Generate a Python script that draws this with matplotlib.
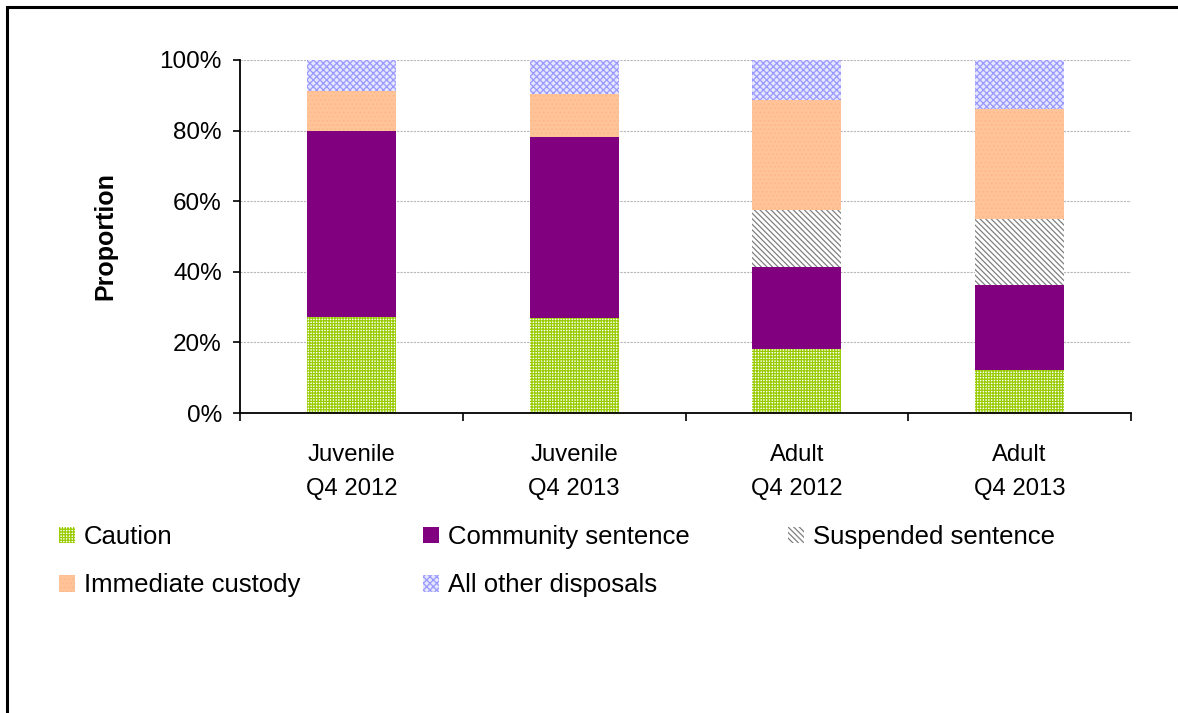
import matplotlib.pyplot as plt
import numpy as np
from matplotlib.patches import Rectangle

plt.rcParams['font.family'] = ['Liberation Sans', 'DejaVu Sans']
plt.rcParams['hatch.linewidth'] = 0.9

groups = ["Juvenile\nQ4 2012", "Juvenile\nQ4 2013", "Adult\nQ4 2012", "Adult\nQ4 2013"]
caution = [27.1, 26.9, 18.0, 12.2]
community = [52.7, 51.3, 23.5, 24.1]
suspended = [0.0, 0.0, 16.0, 18.7]
custody = [11.3, 12.2, 31.3, 31.1]
other = [8.9, 9.6, 11.2, 13.9]

series = [
    ("Caution", caution, dict(facecolor="white", edgecolor="#99CC00", hatch="++++++")),
    ("Community sentence", community, dict(facecolor="#800080", edgecolor="#800080", hatch=None)),
    ("Suspended sentence", suspended, dict(facecolor="white", edgecolor="#808080", hatch="\\\\\\\\\\\\")),
    ("Immediate custody", custody, dict(facecolor="#FFC499", edgecolor="#FFB88A", hatch="....")),
    ("All other disposals", other, dict(facecolor="#E6E6FF", edgecolor="#9999FF", hatch="xxxxx")),
]

fig = plt.figure(figsize=(11.78, 7.13), dpi=100)
ax = fig.add_axes([240 / 1178, 1 - 413 / 713, 891 / 1178, 353 / 713])

x = np.arange(len(groups))
bottom = np.zeros(len(groups))
bars = {}
for name, vals, style in series:
    vals = np.array(vals)
    bars[name] = ax.bar(x, vals, 0.4, bottom=bottom, linewidth=0, label=name, zorder=2, **style)
    bottom += vals

ax.set_xlim(-0.5, len(groups) - 0.5)
ax.set_ylim(0, 100)
ax.set_yticks(np.arange(0, 101, 20))
ax.set_yticklabels([f"{v}%" for v in range(0, 101, 20)])
ax.yaxis.grid(True, color="#B8B8B8", linewidth=0.8, linestyle=(0, (2, 1)), zorder=0)
ax.set_axisbelow(True)

ax.set_xticks(x)
ax.set_xticklabels(groups, linespacing=1.7)
ax.set_xticks(np.arange(-0.5, len(groups)), minor=True)
ax.tick_params(axis="x", which="major", length=0, pad=22.5, labelsize=17.2)
ax.tick_params(axis="x", which="minor", length=6, width=1.2, direction="out")
ax.tick_params(axis="y", length=5, width=1.2, pad=8, labelsize=17.5)

for s in ("top", "right"):
    ax.spines[s].set_visible(False)
for s in ("left", "bottom"):
    ax.spines[s].set_linewidth(1.3)

ax.set_ylabel("Proportion", fontsize=18, fontweight="bold")
ax.yaxis.set_label_coords(-0.138, 0.5)

# legend laid out as three fixed-width columns
columns = [
    (59, ["Caution", "Immediate custody"]),
    (423, ["Community sentence", "All other disposals"]),
    (788, ["Suspended sentence"]),
]
for xpos, names in columns:
    fig.legend([bars[n] for n in names], names, loc="upper left",
               bbox_to_anchor=(xpos / 1178, 1 - 525 / 713), frameon=False,
               fontsize=18.5, handlelength=0.62, handleheight=0.6,
               handletextpad=0.35, labelspacing=0.95, borderpad=0, borderaxespad=0)

# outer frame, cut off by the right and bottom edges
fig.patches.append(Rectangle((7 / 1178, -0.05), 1.2, 1.05 - 7 / 713,
                             transform=fig.transFigure, fill=False,
                             edgecolor="black", linewidth=2.2))

fig.savefig("out.png", dpi=100)
